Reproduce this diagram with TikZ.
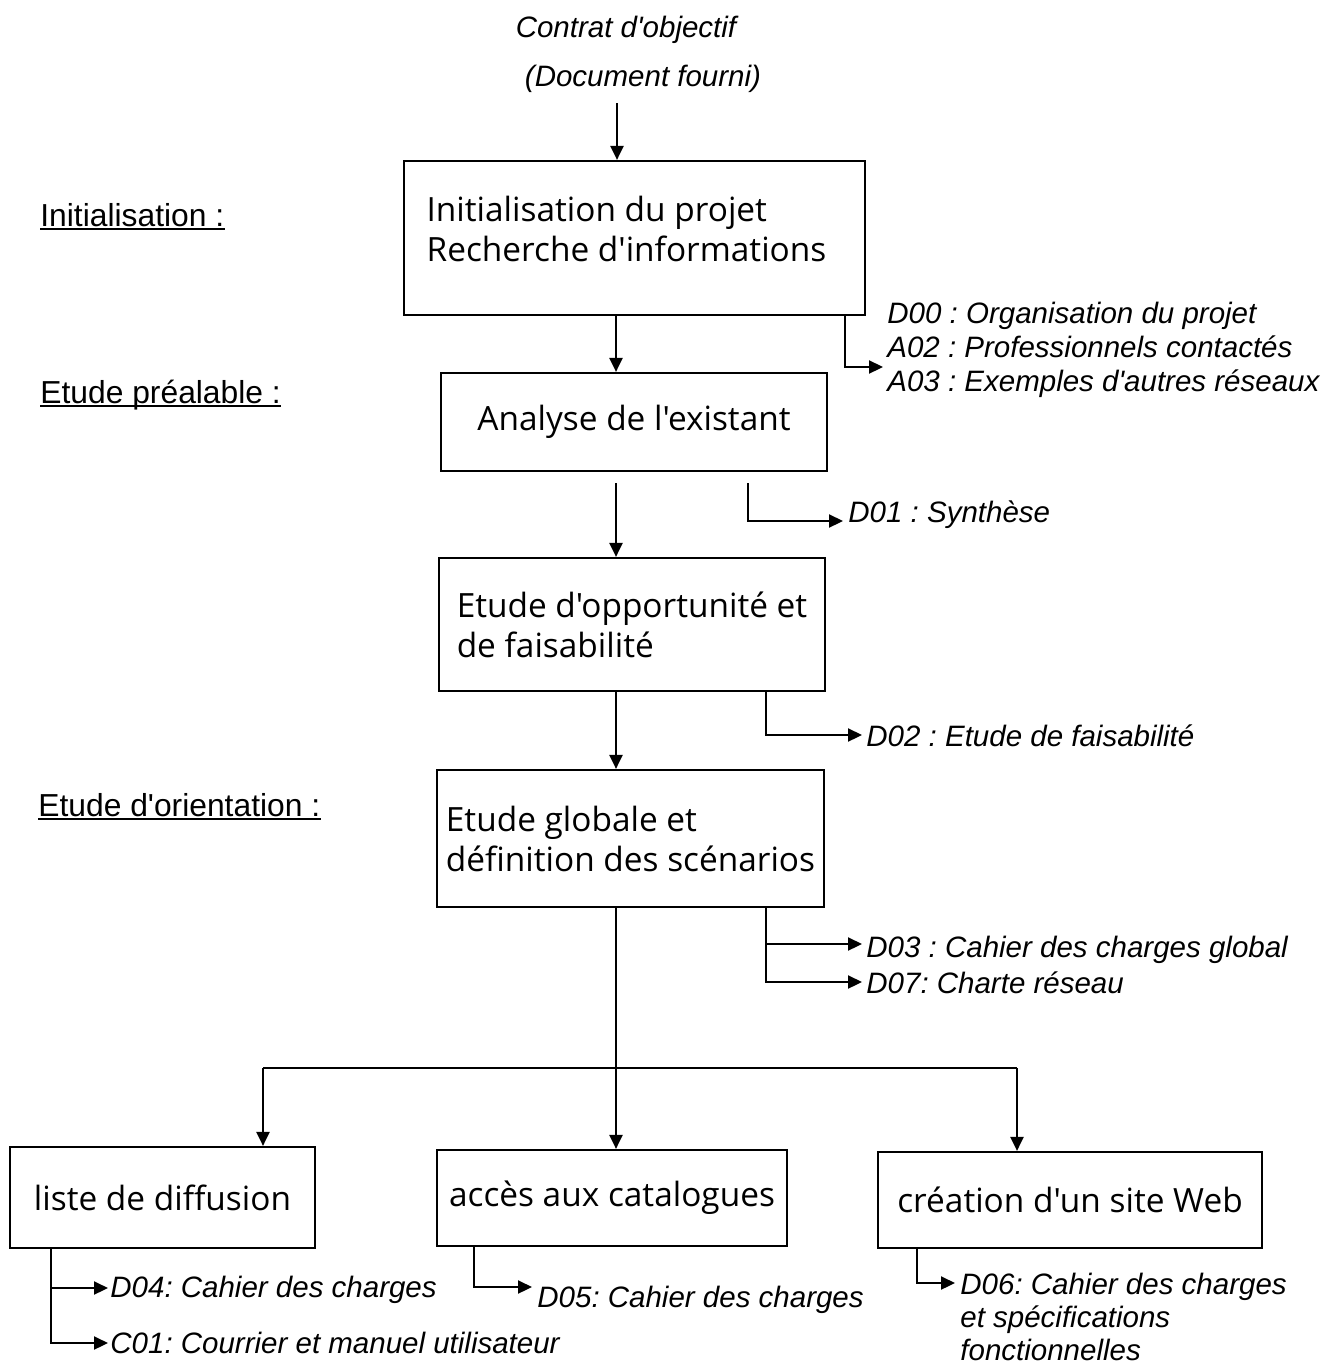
\documentclass[tikz,border=0pt]{standalone}
\usepackage{fontspec}
\setmainfont{Liberation Sans}
\newfontfamily\labfont{Liberation Sans}[Ligatures=TeXOff]
\newfontfamily\boxfont{Open Sans}[Ligatures=TeXOff]
\usetikzlibrary{arrows.meta}
\frenchspacing
\tikzset{
  box/.style={draw, line width=1.1pt, font=\boxfont\fontsize{16.7}{20}\selectfont, align=left, inner sep=0pt},
  lbl/.style={font=\labfont\itshape\fontsize{14.75}{17}\selectfont, inner sep=0pt, anchor=base west},
  toplbl/.style={font=\labfont\itshape\fontsize{14.75}{17}\selectfont, inner sep=0pt, anchor=base},
  phase/.style={font=\labfont\fontsize{15.9}{19}\selectfont, inner sep=0pt, anchor=base west},
  ln/.style={line width=1.1pt},
  ul/.style={line width=0.9pt},
  arr/.style={line width=1.1pt, -{Triangle[length=7pt,width=6.5pt]}},
}
\begin{document}
\frenchspacing
\begin{tikzpicture}[x=0.5pt,y=-0.5pt]
\path[use as bounding box] (0,0) rectangle (1325,1365);

% top labels
\node[toplbl] (t1) at (626,37) {Contrat d'objectif};
\node[toplbl] (t2) at (643,86) {(Document fourni)};

% phase labels
\node[phase] (p1) at (40,226) {Initialisation :};
\node[phase] (p2) at (40,403) {Etude préalable :};
\node[phase] (p3) at (38,816) {Etude d'orientation :};
\foreach \p in {p1,p2,p3}{
  \draw[ul] ([yshift=-1.5pt]\p.base west) -- ([yshift=-1.5pt]\p.base east);
}

% boxes
\node[box, minimum width=230.5pt, minimum height=77pt] (b1) at (634.5,238)
  {Initialisation du projet\\Recherche d'informations\rule[-9.5pt]{0pt}{9.5pt}\hspace*{8pt}};
\node[box, minimum width=193pt, minimum height=49pt] (b2) at (634,422) {Analyse de l'existant};
\node[box, minimum width=193pt, minimum height=66.5pt] (b3) at (632,624.5) {Etude d'opportunité et\\de faisabilité};
\node[box, minimum width=193.5pt, minimum height=68.5pt] (b4) at (630.5,838.5) {Etude globale et\\définition des scénarios};
\node[box, minimum width=152.5pt, minimum height=50.5pt] (b5) at (162.5,1197.5) {liste de diffusion};
\node[box, minimum width=175pt, minimum height=48pt] (b6) at (612,1198) {accès aux catalogues};
\node[box, minimum width=192pt, minimum height=48pt] (b7) at (1070,1200) {création d'un site Web};

% main spine
\coordinate (sp) at (616,0);
\coordinate (c0) at (617,103);
\draw[arr] (c0) -- (c0 |- b1.north);
\draw[arr] (b1.south -| sp) -- (b2.north -| sp);
\coordinate (g2) at ([yshift=-5.5pt]b2.south);
\draw[arr] (g2 -| sp) -- (b3.north -| sp);
\draw[arr] (b3.south -| sp) -- (b4.north -| sp);
\draw[arr] (b4.south -| sp) -- (b6.north -| sp);
\coordinate (jl) at (263,1068);
\coordinate (jr) at (1017,1068);
\draw[ln] (jl) -- (jr);
\draw[arr] (jl) -- (jl |- b5.north);
\draw[arr] (jr) -- (jr |- b7.north);

% side documents
\node[lbl] (d00) at (887,323) {D00 : Organisation du projet};
\node[lbl] (a02) at (887,357) {A02 : Professionnels contactés};
\node[lbl] (a03) at (887,391) {A03 : Exemples d'autres réseaux};
\coordinate (k1) at (845,0);
\coordinate (e1) at (883,367);
\draw[arr] (b1.south -| k1) |- (e1);

\node[lbl] (d01) at (848,522) {D01 : Synthèse};
\coordinate (k2) at (748,0);
\coordinate (e2) at (843,521);
\draw[arr] (g2 -| k2) |- (e2);

\node[lbl] (d02) at (866,746) {D02 : Etude de faisabilité};
\coordinate (k3) at (766,0);
\coordinate (e3) at (862,735);
\draw[arr] (b3.south -| k3) |- (e3);

\node[lbl] (d03) at (866,957) {D03 : Cahier des charges global};
\node[lbl] (d07) at (866,993) {D07: Charte réseau};
\coordinate (k4) at (766,0);
\coordinate (e4) at (862,944);
\coordinate (e5) at (862,982);
\draw[arr] (b4.south -| k4) |- (e4);
\draw[arr] (b4.south -| k4) |- (e5);

\node[lbl] (d04) at (110,1297) {D04: Cahier des charges};
\node[lbl] (c01) at (110,1353) {C01: Courrier et manuel utilisateur};
\coordinate (k5) at (51,0);
\coordinate (e6) at (108,1288);
\coordinate (e7) at (108,1343);
\draw[arr] (b5.south -| k5) |- (e6);
\draw[arr] (b5.south -| k5) |- (e7);

\node[lbl] (d05) at (537,1307) {D05: Cahier des charges};
\coordinate (k6) at (474,0);
\coordinate (e8) at (532,1287);
\draw[arr] (b6.south -| k6) |- (e8);

\node[lbl] (d06a) at (960,1294) {D06: Cahier des charges};
\node[lbl] (d06b) at (960,1327) {et spécifications};
\node[lbl] (d06c) at (960,1360) {fonctionnelles};
\coordinate (k7) at (917,0);
\coordinate (e9) at (955,1283);
\draw[arr] (b7.south -| k7) |- (e9);
\end{tikzpicture}
\end{document}
